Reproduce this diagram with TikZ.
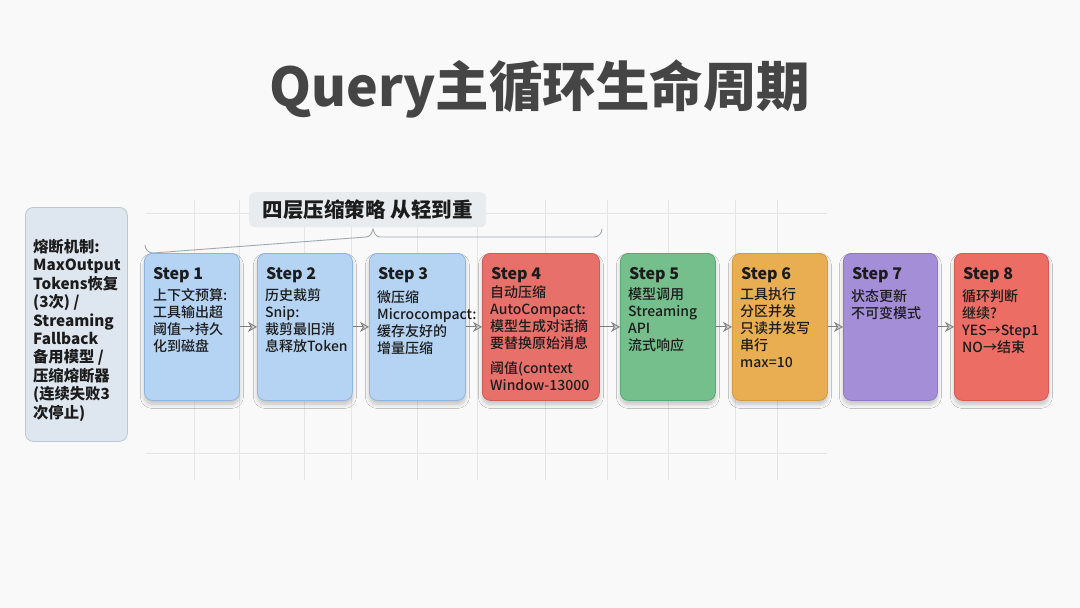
\documentclass[tikz,border=0pt]{standalone}
\usepackage{fontspec}
\setmainfont{Noto Sans CJK SC}
\newfontfamily\medfont{Noto Sans CJK SC}[UprightFont={* Medium}]
\usetikzlibrary{arrows.meta,shadows.blur}
\definecolor{bgc}{HTML}{F9F9FA}
\definecolor{gridc}{HTML}{E4E5E7}
\definecolor{titlec}{HTML}{454545}
\definecolor{bluef}{HTML}{B5D3F2}\definecolor{blueb}{HTML}{8FB5DE}
\definecolor{redf}{HTML}{E8706A}\definecolor{redb}{HTML}{CF5B56}
\definecolor{greenf}{HTML}{74BF8C}\definecolor{greenb}{HTML}{5AA873}
\definecolor{orangef}{HTML}{E9AE52}\definecolor{orangeb}{HTML}{D39A3F}
\definecolor{purplef}{HTML}{A58ED8}\definecolor{purpleb}{HTML}{8E78C4}
\definecolor{red8f}{HTML}{EB6D64}\definecolor{red8b}{HTML}{D45A52}
\definecolor{leftf}{HTML}{DEE6EF}\definecolor{leftb}{HTML}{B8C7D8}
\definecolor{labf}{HTML}{E9ECEF}
\definecolor{bracec}{HTML}{A0A8B2}
\definecolor{arrc}{HTML}{7C7C7C}
\definecolor{txt}{HTML}{1C1C1C}
\tikzset{
  stepbox/.style={draw, line width=0.8pt, rounded corners=8pt, inner sep=0pt,
    blur shadow={shadow xshift=0pt, shadow yshift=-4pt, shadow blur steps=8, shadow blur radius=4pt, shadow opacity=22}},
  steptitle/.style={anchor=base west, inner sep=0pt, text=txt, font=\bfseries\fontsize{16}{18}\selectfont},
  stepbody/.style={anchor=north west, inner sep=0pt, align=left, text=txt, font=\medfont\fontsize{14}{17}\selectfont},
  flow/.style={draw=arrc, line width=0.9pt, -{Stealth[length=9pt,width=10pt,fill=arrc!40,line width=0.8pt]}},
  gridline/.style={draw=gridc, line width=0.6pt}
}
\begin{document}
\begin{tikzpicture}[x=1pt,y=-1pt]
\fill[bgc] (0,0) rectangle (1080,608);
\useasboundingbox (0,0) rectangle (1080,608);
% faint grid
\foreach \gx in {194,239,304,351,417,477,545,607,668,735,777}
  \draw[gridline] (\gx,200) -- (\gx,480);
\draw[gridline] (146,213) -- (827,213);
\draw[gridline] (146,453) -- (827,453);
% title
\node[anchor=base, inner sep=0pt, text=titlec, font=\bfseries\fontsize{53.5}{56}\selectfont] (title) at (540,106) {Query主循环生命周期};
% left box
\node[draw=leftb, line width=0.8pt, rounded corners=8pt, fill=leftf, minimum width=102pt, minimum height=234pt, anchor=north west, inner sep=0pt] (left) at (25,207) {};
\node[anchor=north west, inner sep=0pt, align=left, text=txt, font=\bfseries\fontsize{15.3}{18.4}\selectfont] (lefttext) at (33,239)
  {熔断机制:\\MaxOutput\\Tokens恢复\\(3次) /\\Streaming\\Fallback\\备用模型 /\\压缩熔断器\\(连续失败3\\次停止)};
% brace label
\node[draw=none, fill=labf, rounded corners=6pt, minimum width=237pt, minimum height=35pt, anchor=north west, inner sep=0pt] (lab) at (249,192) {};
\node[font=\bfseries\fontsize{20.5}{22}\selectfont, text=txt, inner sep=0pt] (labtext) at (lab.center) {四层压缩策略 从轻到重};
% brace
\draw[bracec, line width=0.9pt] (145,245) arc[start angle=180, end angle=90, radius=8] -- (366,237)
  .. controls (370,237) and (372,233) .. (373,229)
  .. controls (374,233) and (376,237) .. (380,237) -- (594,237)
  arc[start angle=90, end angle=0, radius=8];
% step boxes
\newcommand{\stepnode}[6]{%
  \node[stepbox, draw=#3, fill=#2, minimum width=#5pt, minimum height=147pt, anchor=north west] (#1) at (#4,253) {};
  \node[steptitle] (#1t) at (#4+9,279) {#6};
}
\stepnode{s1}{bluef}{blueb}{144}{95}{Step 1}
\stepnode{s2}{bluef}{blueb}{257}{95}{Step 2}
\stepnode{s3}{bluef}{blueb}{369}{96}{Step 3}
\stepnode{s4}{redf}{redb}{482}{117}{Step 4}
\stepnode{s5}{greenf}{greenb}{620}{95}{Step 5}
\stepnode{s6}{orangef}{orangeb}{732}{95}{Step 6}
\stepnode{s7}{purplef}{purpleb}{843}{94}{Step 7}
\stepnode{s8}{red8f}{red8b}{954}{94}{Step 8}
\node[stepbody] (s1b) at (153,288) {上下文预算:\\工具输出超\\阈值→持久\\化到磁盘};
\node[stepbody] (s2b) at (265,288) {历史裁剪\\Snip:\\裁剪最旧消\\息释放Token};
\node[stepbody] (s3b) at (377,290) {微压缩\\Microcompact:\\缓存友好的\\增量压缩};
\node[stepbody] (s4b) at (490,285) {自动压缩\\AutoCompact:\\模型生成对话摘\\要替换原始消息\\[8pt]阈值(context\\Window-13000};
\node[stepbody] (s5b) at (628,287) {模型调用\\Streaming\\API\\流式响应};
\node[stepbody] (s6b) at (740,287) {工具执行\\分区并发\\只读并发写\\串行\\max=10};
\node[stepbody] (s7b) at (851,289) {状态更新\\不可变模式};
\node[stepbody] (s8b) at (962,289) {循环判断\\继续?\\YES→Step1\\NO→结束};
% arrows
\foreach \a/\b in {s1/s2,s2/s3,s3/s4,s4/s5,s5/s6,s6/s7,s7/s8}
  \draw[flow] (\a.east) -- (\b.west);
\end{tikzpicture}
\end{document}
